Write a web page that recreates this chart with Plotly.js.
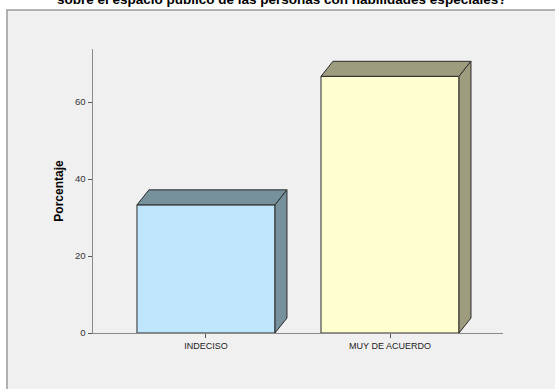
<!DOCTYPE html>
<html>
<head>
<meta charset="utf-8">
<script src="https://cdn.plot.ly/plotly-3.0.1.min.js"></script>
<style>
html,body{margin:0;padding:0;background:#fff;}
#chart{width:555px;height:389px;}
</style>
</head>
<body>
<div id="chart"></div>
<script>
// ---- data ----
const categories = ['INDECISO', 'MUY DE ACUERDO'];
const values = [33.3, 66.7];
const yTicks = [0, 20, 40, 60];
const frontColors = ['#c0e6fe', '#fefece'];
const shadeColors = ['#76909c', '#9e9c7e'];
const chartTitle = 'sobre el espacio público de las personas con habilidades especiales?';
const yTitle = 'Porcentaje';

// ---- geometry helpers (styles, not data) ----
const barWidth = 0.75;
const depthX = 0.065;   // category units
const depthY = 3.9;     // value units
const outline = '#2b2b2b';

const traces = [];
categories.forEach((c, i) => {
  const v = values[i];
  const l = i - barWidth / 2, r = i + barWidth / 2;
  // top face
  traces.push({
    type: 'scatter', mode: 'lines', fill: 'toself',
    x: [l, l + depthX, r + depthX, r, l],
    y: [v, v + depthY, v + depthY, v, v],
    fillcolor: shadeColors[i], line: {color: outline, width: 1},
    hoverinfo: 'skip', showlegend: false
  });
  // side face
  traces.push({
    type: 'scatter', mode: 'lines', fill: 'toself',
    x: [r, r + depthX, r + depthX, r, r],
    y: [0, depthY, v + depthY, v, 0],
    fillcolor: shadeColors[i], line: {color: outline, width: 1},
    hoverinfo: 'skip', showlegend: false
  });
});
traces.push({
  type: 'bar',
  x: categories.map((c, i) => i),
  y: values,
  width: barWidth,
  marker: {color: frontColors, line: {color: outline, width: 1}},
  text: categories, hoverinfo: 'text+y', textposition: 'none',
  showlegend: false
});

const layout = {
  width: 555, height: 389,
  margin: {l: 93, r: 52, t: 49, b: 56, pad: 0},
  paper_bgcolor: '#ffffff',
  plot_bgcolor: '#f0f0f0',
  font: {family: 'Liberation Sans, Arial, sans-serif', color: '#222'},
  showlegend: false,
  bargap: 0,
  xaxis: {
    range: [-0.614, 1.614],
    tickvals: categories.map((c, i) => i),
    ticktext: categories,
    showgrid: false, zeroline: false,
    showline: true, linecolor: '#8a8a8a', linewidth: 1,
    ticks: 'outside', ticklen: 4, tickcolor: '#555', tickwidth: 1,
    tickfont: {size: 9, color: '#222'},
    fixedrange: true
  },
  yaxis: {
    range: [0, 73.8],
    tickvals: yTicks,
    showgrid: false, zeroline: false,
    showline: true, linecolor: '#8a8a8a', linewidth: 1.5,
    ticks: 'outside', ticklen: 4, tickcolor: '#555', tickwidth: 1,
    tickfont: {size: 9.5, color: '#333'},
    title: {text: yTitle, font: {size: 12, color: '#000', family: 'Liberation Sans, Arial, sans-serif', weight: 'bold'}, standoff: 9},
    fixedrange: true
  },
  shapes: [{
    type: 'rect', xref: 'paper', yref: 'paper', layer: 'below',
    x0: -0.2098, x1: 1.3, y0: -0.3, y1: 1.1373,
    fillcolor: '#f0f0f0', line: {color: '#9a9a9a', width: 1.5}
  }],
  annotations: [{
    text: '<b>' + chartTitle + '</b>',
    xref: 'paper', yref: 'paper', x: 0.4604, y: 1.14,
    xanchor: 'center', yanchor: 'bottom', showarrow: false,
    font: {size: 13.5, color: '#000', family: 'Liberation Sans, Arial, sans-serif'}
  }]
};

Plotly.newPlot('chart', traces, layout, {displayModeBar: false, staticPlot: true});
</script>
</body>
</html>
